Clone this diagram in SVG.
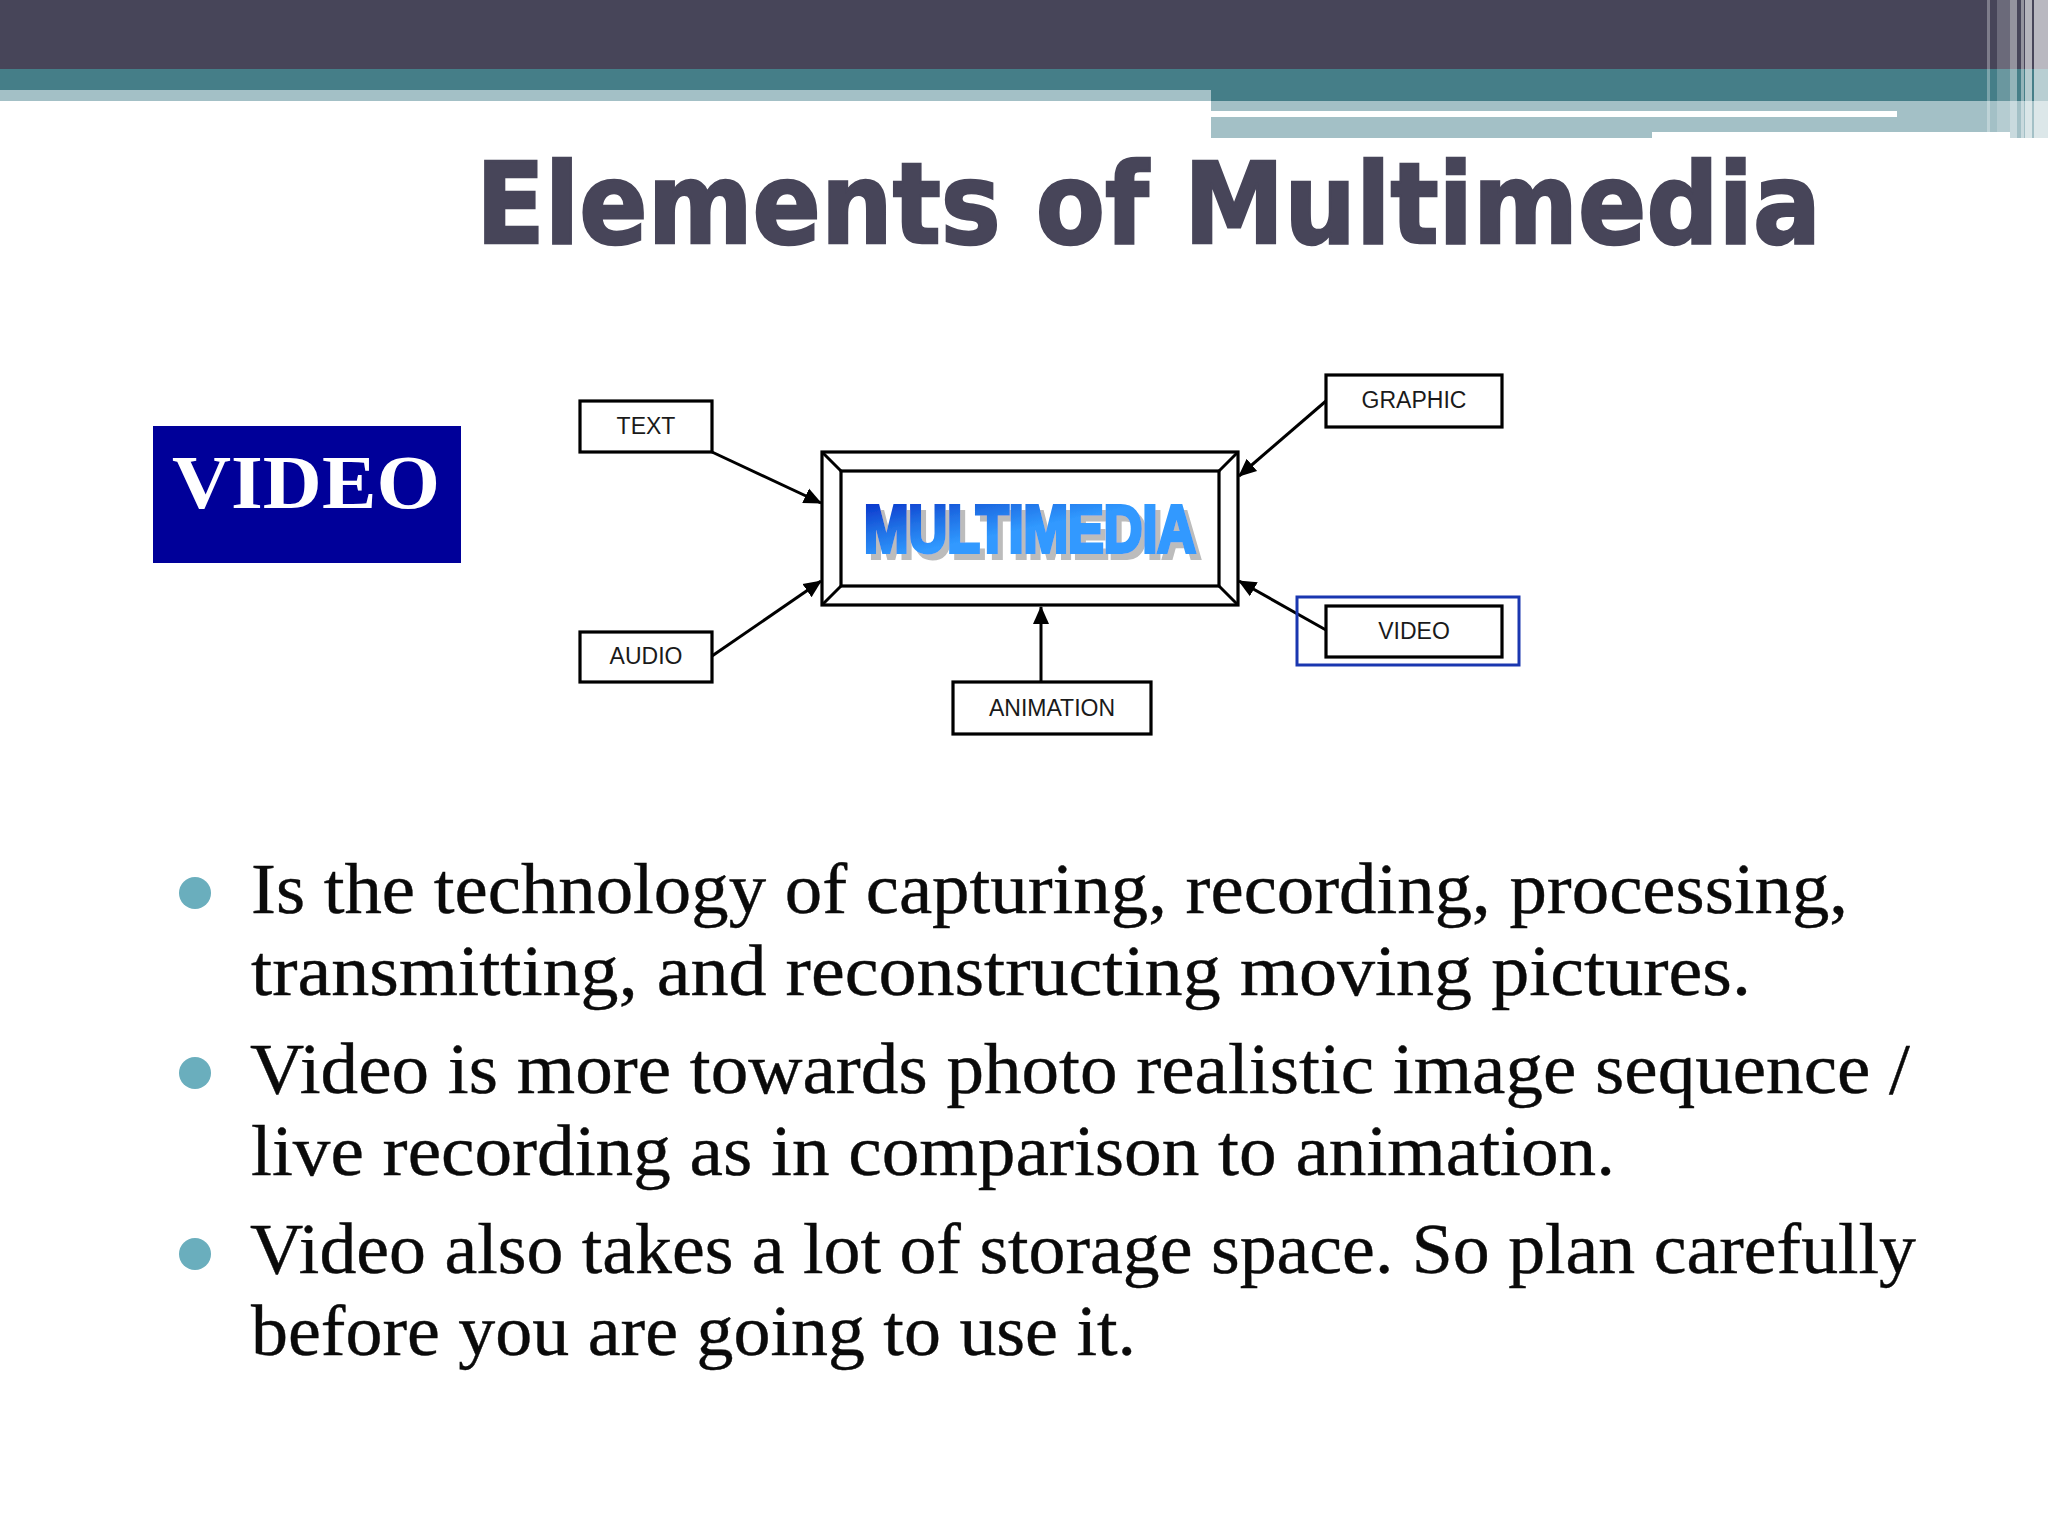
<svg xmlns="http://www.w3.org/2000/svg" width="2048" height="1536" viewBox="0 0 2048 1536">
<style>
.box{fill:#fff;stroke:#000;stroke-width:3.2}
.lbl{font-family:"Liberation Sans",Arial,sans-serif;font-size:23px;fill:#1a1a1a;text-anchor:middle}
.cn{stroke:#000;stroke-width:3;fill:none;marker-end:url(#ah)}
.body{font-family:"Liberation Serif","Times New Roman",serif;font-size:72px;fill:#0a0a0a;stroke:#0a0a0a;stroke-width:.4}
.bul{fill:#6aaebd}
.st{fill:#fff}
</style>
<defs>
<marker id="ah" markerUnits="userSpaceOnUse" viewBox="0 0 18 18" refX="17" refY="9" markerWidth="18" markerHeight="18" orient="auto"><path d="M0 1 L18 9 L0 17 Z" fill="#000"/></marker>
<linearGradient id="mg" gradientUnits="userSpaceOnUse" x1="865" y1="503" x2="877" y2="560"><stop offset="0" stop-color="#0a35cc"/><stop offset="0.5" stop-color="#1f6ee4"/><stop offset="1" stop-color="#3099ff"/></linearGradient>
<filter id="sh" x="-5%" y="-20%" width="110%" height="150%"><feDropShadow dx="5" dy="6" stdDeviation="0.6" flood-color="#bcbcbc"/></filter>
</defs>
<rect width="2048" height="1536" fill="#fff"/>
<g id="header">
<rect x="0" y="0" width="2048" height="69" fill="#474559"/>
<rect x="0" y="69" width="2048" height="32" fill="#457e88"/>
<rect x="0" y="90" width="1211" height="11" fill="#a3c0c6"/>
<rect x="1211" y="101" width="837" height="37" fill="#a3c0c6"/>
<rect x="1211" y="111" width="686" height="6" fill="#fff"/>
<rect x="1652" y="132" width="396" height="6" fill="#fff"/>
<rect x="2010" y="132" width="38" height="6" fill="#a3c0c6"/>
<g class="st">
<rect x="1987" y="0" width="3" height="132" opacity=".3"/>
<rect x="1997" y="0" width="13" height="132" opacity=".2"/>
<rect x="2010" y="0" width="7" height="138" opacity=".42"/>
<rect x="2021" y="0" width="3" height="138" opacity=".42"/>
<rect x="2025" y="0" width="7" height="138" opacity=".6"/>
<rect x="2034" y="0" width="14" height="138" opacity=".62"/>
</g>
</g>
<text id="title" x="476" y="243" font-family="'DejaVu Sans',Verdana,sans-serif" font-weight="700" font-size="113" fill="#474559" stroke="#474559" stroke-width="2.5" textLength="1345" lengthAdjust="spacingAndGlyphs">Elements of Multimedia</text>
<g id="video-badge">
<rect x="153" y="426" width="308" height="137" fill="#000099"/>
<text x="172" y="508" font-family="'Liberation Serif',serif" font-weight="700" font-size="76" fill="#fff" textLength="268" lengthAdjust="spacingAndGlyphs">VIDEO</text>
</g>
<g id="connectors">
<line class="cn" x1="712" y1="452" x2="821" y2="503"/>
<line class="cn" x1="712" y1="656" x2="821" y2="581"/>
<line class="cn" x1="1326" y1="401" x2="1239" y2="476"/>
<line class="cn" x1="1326" y1="630" x2="1239" y2="581"/>
<line class="cn" x1="1041" y1="682" x2="1041" y2="607"/>
</g>
<g id="multimedia">
<rect class="box" x="822" y="452" width="416" height="153"/>
<rect class="box" x="841" y="471" width="378" height="115"/>
<path d="M822 452L841 471M1238 452L1219 471M822 605L841 586M1238 605L1219 586" stroke="#000" stroke-width="3" fill="none"/>
<text x="864" y="552" font-family="'Liberation Sans',sans-serif" font-weight="700" font-size="66" fill="url(#mg)" stroke="url(#mg)" stroke-width="4" textLength="332" lengthAdjust="spacingAndGlyphs" filter="url(#sh)">MULTIMEDIA</text>
</g>
<g id="node-text"><rect class="box" x="580" y="401" width="132" height="51"/><text class="lbl" x="646" y="434">TEXT</text></g>
<g id="node-audio"><rect class="box" x="580" y="632" width="132" height="50"/><text class="lbl" x="646" y="664">AUDIO</text></g>
<g id="node-graphic"><rect class="box" x="1326" y="375" width="176" height="52"/><text class="lbl" x="1414" y="408">GRAPHIC</text></g>
<g id="node-video"><rect class="box" x="1326" y="606" width="176" height="51"/><text class="lbl" x="1414" y="639">VIDEO</text>
<rect x="1297" y="597" width="222" height="68" fill="none" stroke="#1a37b0" stroke-width="3"/></g>
<g id="node-animation"><rect class="box" x="953" y="682" width="198" height="52"/><text class="lbl" x="1052" y="716">ANIMATION</text></g>
<g id="bullets">
<circle class="bul" cx="195" cy="893" r="16"/>
<circle class="bul" cx="195" cy="1073" r="16"/>
<circle class="bul" cx="195" cy="1254" r="16"/>
<text class="body" x="251" y="913" textLength="1597" lengthAdjust="spacingAndGlyphs">Is the technology of capturing, recording, processing,</text>
<text class="body" x="251" y="995" textLength="1500" lengthAdjust="spacingAndGlyphs">transmitting, and reconstructing moving pictures.</text>
<text class="body" x="250" y="1093" textLength="1660" lengthAdjust="spacingAndGlyphs">Video is more towards photo realistic image sequence /</text>
<text class="body" x="251" y="1175" textLength="1364" lengthAdjust="spacingAndGlyphs">live recording as in comparison to animation.</text>
<text class="body" x="250" y="1273" textLength="1666" lengthAdjust="spacingAndGlyphs">Video also takes a lot of storage space. So plan carefully</text>
<text class="body" x="251" y="1355" textLength="885" lengthAdjust="spacingAndGlyphs">before you are going to use it.</text>
</g>
</svg>
